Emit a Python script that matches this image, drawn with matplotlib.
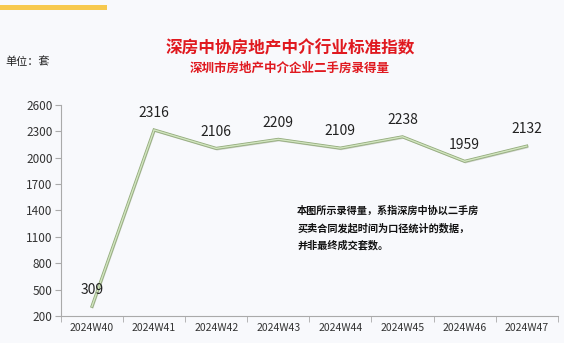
import matplotlib
matplotlib.use("Agg")
import matplotlib.pyplot as plt
import matplotlib.patheffects as pe
from matplotlib.patches import Rectangle

plt.rcParams['font.family'] = ['Noto Sans CJK SC', 'DejaVu Sans']

categories = ["2024W40", "2024W41", "2024W42", "2024W43", "2024W44", "2024W45", "2024W46", "2024W47"]
values = [309, 2316, 2106, 2209, 2109, 2238, 1959, 2132]
yticks = [200, 500, 800, 1100, 1400, 1700, 2000, 2300, 2600]

bg = "#f8f9fc"
fig = plt.figure(figsize=(5.64, 3.43), dpi=100, facecolor=bg)
ax = fig.add_axes([0.108, 0.079, 0.881, 0.615], facecolor=bg)

x = list(range(len(categories)))
ax.plot(x, values, color="#d2e5c0", lw=1.0, solid_joinstyle="miter",
        path_effects=[pe.SimpleLineShadow(offset=(0.6, -1.0), shadow_color="#b8bfb0", alpha=0.7),
                      pe.Stroke(linewidth=2.2, foreground="#93ab7c"),
                      pe.Normal()], zorder=3)
for xi, v in zip(x, values):
    ax.annotate(str(v), (xi, v), xytext=(0, 7), textcoords="offset points",
                ha="center", va="bottom", fontsize=10, color="#222222")

ax.set_xlim(-0.5, len(categories) - 0.5)
ax.set_ylim(200, 2600)
ax.set_yticks(yticks)
ax.set_yticklabels([str(t) for t in yticks], fontsize=8.5, color="#333333")
ax.set_xticks(x)
ax.set_xticklabels(categories, fontsize=7.5, color="#333333")
ax.tick_params(axis="x", length=0, pad=5)
ax.set_xticks([i - 0.5 for i in range(len(categories) + 1)], minor=True)
ax.tick_params(axis="x", which="minor", length=4, color="#aaaaaa", direction="out")
ax.tick_params(axis="y", length=4, color="#aaaaaa", pad=2)
for s in ["top", "right"]:
    ax.spines[s].set_visible(False)
for s in ["left", "bottom"]:
    ax.spines[s].set_color("#aaaaaa")
    ax.spines[s].set_linewidth(0.8)

fig.patches.append(Rectangle((0, 1 - 10/343), 107/564, 5/343, transform=fig.transFigure,
                             facecolor="#f7c94e", edgecolor="none"))
fig.text(0.514, 0.86, "深房中协房地产中介行业标准指数", ha="center", va="center",
         fontsize=12, fontweight="bold", color="#e0191f")
fig.text(0.514, 0.80, "深圳市房地产中介企业二手房录得量", ha="center", va="center",
         fontsize=9, fontweight="bold", color="#e0191f")
fig.text(0.009, 0.82, "单位：套", ha="left", va="center", fontsize=8, color="#222222")
fig.text(0.527, 0.335, "本图所示录得量，系指深房中协以二手房\n买卖合同发起时间为口径统计的数据，\n并非最终成交套数。",
         ha="left", va="center", fontsize=7.3, fontweight="bold", color="#111111", linespacing=1.85)

fig.savefig("out.png", dpi=100, facecolor=bg)
